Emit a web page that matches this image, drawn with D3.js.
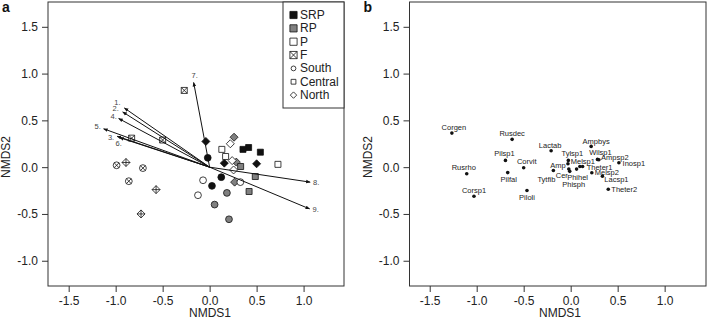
<!DOCTYPE html>
<html>
<head>
<meta charset="utf-8">
<script src="https://cdn.jsdelivr.net/npm/d3@7"></script>
<style>
  body { margin: 0; background: #fff; }
  text { font-family: "Liberation Sans", Arial, Helvetica, sans-serif; }
  .axis path { display: none; }
  .axis line { stroke: #333; }
  .axis text { fill: #222; font-size: 12px; }
</style>
</head>
<body>
<div id="chart"></div>
<script>
// ---- panel a: sites ----
const siteTreatment = [
  "F","F","F","F","F","F","F","F","F",
  "SRP","SRP","SRP","SRP","SRP","SRP","SRP","SRP","SRP",
  "RP","RP","RP","RP","RP","RP","RP","RP","RP",
  "P","P","P","P","P","P","P","P","P"
];
const siteRegion = [
  "Central","Central","Central","South","North","South","South","North","North",
  "North","South","North","Central","Central","Central","North","South","South",
  "North","North","Central","Central","Central","North","South","South","South",
  "Central","Central","North","North","North","South","South","South","Central"
];
const siteX = [
  -0.27, -0.83, -0.50, -0.99, -0.89, -0.71, -0.86, -0.57, -0.73,
  -0.04, -0.02, 0.156, 0.355, 0.415, 0.54, 0.50, 0.124, 0.025,
  0.26, 0.284, 0.33, 0.486, 0.42, 0.266, 0.184, 0.053, 0.206,
  0.13, 0.17, 0.22, 0.24, 0.255, 0.327, -0.07, -0.124, 0.727
];
const siteY = [
  0.82, 0.31, 0.29, 0.02, 0.05, -0.01, -0.15, -0.24, -0.50,
  0.275, 0.10, 0.043, 0.19, 0.21, 0.16, 0.036, -0.107, -0.20,
  0.32, 0.054, 0.007, -0.10, -0.26, -0.16, -0.275, -0.40, -0.557,
  0.19, 0.114, 0.25, 0.07, -0.03, -0.16, -0.14, -0.30, 0.03
];

// environmental vectors
const vecLabels = ["1.","2.","3.","4.","5.","6.","7.","8.","9."];
const vecX = [-0.907, -0.925, -0.985, -0.968, -1.128, -0.957, -0.17, 1.07, 1.064];
const vecY = [0.632, 0.59, 0.33, 0.52, 0.41, 0.315, 0.905, -0.16, -0.446];

const legendLabels = ["SRP","RP","P","F","South","Central","North"];

// ---- panel b: species ----
const speciesNames = ["Corgen","Rusdec","Pilsp1","Corvit","Pilfal","Rusrho","Corsp1","Piloli",
  "Lactab","Ampbys","Tylsp1","Amp","Tytfib","Cer","Phisph","Phihel","Melsp1","Theter1",
  "Wilsp1","Ampsp2","Inosp1","Melsp2","Lacsp1","Theter2"];
const speciesX = [-1.264, -0.623, -0.694, -0.50, -0.67, -1.106, -1.029, -0.465,
  -0.208, 0.218, -0.025, -0.029, -0.184, -0.02, -0.01, 0.063, 0.098, 0.127,
  0.285, 0.30, 0.513, 0.225, 0.338, 0.40];
const speciesY = [0.364, 0.297, 0.072, -0.006, -0.058, -0.071, -0.311, -0.25,
  0.176, 0.222, 0.072, 0.036, -0.035, -0.02, -0.045, -0.021, 0.007, 0.007,
  0.083, 0.079, 0.047, -0.06, -0.096, -0.236];

const xTicks = [-1.5, -1.0, -0.5, 0.0, 0.5, 1.0];
const yTicks = [-1.0, -0.5, 0.0, 0.5, 1.0, 1.5];

// label nudges (px) so the text sits like the original
const vecLabelNudge = [[-7,-6],[-7,-3],[-6,1],[-5,-2],[-6,-2],[-1,6],[1,-7],[6,0],[6,1]];
const speciesLabelNudge = {
  Corgen:[2,-6], Rusdec:[0,-6], Pilsp1:[-1,-7], Corvit:[3,-6], Pilfal:[1,7], Rusrho:[-3,-6],
  Corsp1:[0,-6], Piloli:[0,7], Lactab:[-1,-5], Ampbys:[5,-5], Tylsp1:[4,-7], Amp:[-10,2],
  Tytfib:[-7,9], Cer:[-7,6], Phisph:[4,13], Phihel:[1,8], Melsp1:[3,-5], Theter1:[17,1],
  Wilsp1:[3,-7], Ampsp2:[16,-2], Inosp1:[15,1], Melsp2:[15,0], Lacsp1:[14,3], Theter2:[16,0]
};

const W = 707, H = 325;
const svg = d3.select("#chart").append("svg")
  .attr("width", W).attr("height", H);

const fillFor = {SRP: "#111", RP: "#808080", P: "#fff", F: "#fff"};

// marker path centred at (cx, cy)
function markerPath(shape, cx, cy, s, crossed) {
  let p = "";
  if (shape === "South") {
    p = `M${cx + s},${cy} A${s},${s} 0 1,1 ${cx - s},${cy} A${s},${s} 0 1,1 ${cx + s},${cy} Z`;
    if (crossed) {
      const k = s * 0.7;
      p += `M${cx - k},${cy - k}L${cx + k},${cy + k}M${cx - k},${cy + k}L${cx + k},${cy - k}`;
    }
  } else if (shape === "Central") {
    p = `M${cx - s},${cy - s}H${cx + s}V${cy + s}H${cx - s}Z`;
    if (crossed) p += `M${cx - s},${cy - s}L${cx + s},${cy + s}M${cx - s},${cy + s}L${cx + s},${cy - s}`;
  } else {
    p = `M${cx},${cy - s}L${cx + s},${cy}L${cx},${cy + s}L${cx - s},${cy}Z`;
    if (crossed) p += `M${cx},${cy - s}V${cy + s}M${cx - s},${cy}H${cx + s}`;
  }
  return p;
}
const markerSize = {South: 3.4, Central: 3.0, North: 4.0};

function setupPanel(x0, x1, xDom, letter, titleX) {
  const g = svg.append("g");
  const x = d3.scaleLinear().domain(xDom).range([x0, x1]);
  const y = d3.scaleLinear().domain([-1.27, 1.765]).range([286, 2]);

  g.append("g").attr("class", "axis")
    .attr("transform", "translate(0,286)")
    .call(d3.axisBottom(x).tickValues(xTicks).tickSize(6).tickPadding(4)
      .tickFormat(d => d.toFixed(1)));
  g.append("g").attr("class", "axis")
    .attr("transform", `translate(${x0},0)`)
    .call(d3.axisLeft(y).tickValues(yTicks).tickSize(6).tickPadding(4)
      .tickFormat(d => d.toFixed(1)));

  g.append("rect")
    .attr("x", x0).attr("y", y.range()[1])
    .attr("width", x1 - x0).attr("height", y.range()[0] - y.range()[1])
    .attr("fill", "none").attr("stroke", "#333").attr("stroke-width", 1);

  g.append("text").attr("x", titleX).attr("y", 317)
    .attr("text-anchor", "middle").attr("font-size", 12).attr("fill", "#222")
    .text("NMDS1");
  g.append("text")
    .attr("transform", `translate(${x0 - 38},157) rotate(-90)`)
    .attr("text-anchor", "middle").attr("font-size", 12).attr("fill", "#222")
    .text("NMDS2");
  g.append("text").attr("x", x0 - 46).attr("y", 12)
    .attr("font-size", 14).attr("font-weight", "bold").attr("fill", "#111")
    .text(letter);
  return {g, x, y};
}

// ---------- panel a ----------
const A = setupPanel(48, 344, [-1.72, 1.43], "a", 210);

const defs = svg.append("defs");
defs.append("marker").attr("id", "head")
  .attr("viewBox", "0 0 10 10").attr("refX", 9).attr("refY", 5)
  .attr("markerWidth", 4.5).attr("markerHeight", 4.5).attr("orient", "auto")
  .append("path").attr("d", "M0,1L10,5L0,9Z").attr("fill", "#111");

const vec = vecLabels.map((l, i) => ({l, x: vecX[i], y: vecY[i], n: vecLabelNudge[i]}));

// points
const sites = siteX.map((v, i) => ({x: v, y: siteY[i], t: siteTreatment[i], r: siteRegion[i]}));
A.g.append("g").selectAll("path").data(sites).join("path")
  .attr("d", d => markerPath(d.r, A.x(d.x), A.y(d.y), markerSize[d.r], d.t === "F"))
  .attr("fill", d => fillFor[d.t])
  .attr("stroke", "#111").attr("stroke-width", 0.8);

// arrows
A.g.append("g").selectAll("line").data(vec).join("line")
  .attr("x1", A.x(0)).attr("y1", A.y(0))
  .attr("x2", d => A.x(d.x)).attr("y2", d => A.y(d.y))
  .attr("stroke", "#111").attr("stroke-width", 1)
  .attr("marker-end", "url(#head)");
A.g.append("g").selectAll("text").data(vec).join("text")
  .attr("x", d => A.x(d.x) + d.n[0]).attr("y", d => A.y(d.y) + d.n[1])
  .attr("text-anchor", "middle").attr("dominant-baseline", "central")
  .attr("font-size", 7.5).attr("fill", "#444")
  .text(d => d.l);

// legend
const lg = A.g.append("g");
lg.append("rect").attr("x", 283).attr("y", 2).attr("width", 61).attr("height", 106)
  .attr("fill", "#fff").attr("stroke", "#333").attr("stroke-width", 1);
legendLabels.forEach((lab, i) => {
  const cy = 15 + i * 13.35, cx = 293.5;
  let d, fill = "#fff";
  if (i < 4) {
    d = markerPath("Central", cx, cy, 3.6, lab === "F");
    fill = fillFor[lab];
  } else {
    const size = {South: 2.4, Central: 2.4, North: 3.2}[lab];
    d = markerPath(lab, cx, cy, size, false);
  }
  lg.append("path").attr("d", d).attr("fill", fill)
    .attr("stroke", "#111").attr("stroke-width", 0.8);
  lg.append("text").attr("x", 300).attr("y", cy)
    .attr("dominant-baseline", "central").attr("font-size", 12).attr("fill", "#222")
    .text(lab);
});

// ---------- panel b ----------
const B = setupPanel(409.5, 706, [-1.715, 1.44], "b", 560);
const species = speciesNames.map((n, i) => ({n, x: speciesX[i], y: speciesY[i], o: speciesLabelNudge[n]}));
B.g.append("g").selectAll("circle").data(species).join("circle")
  .attr("cx", d => B.x(d.x)).attr("cy", d => B.y(d.y)).attr("r", 1.8)
  .attr("fill", "#111");
B.g.append("g").selectAll("text").data(species).join("text")
  .attr("x", d => B.x(d.x) + d.o[0]).attr("y", d => B.y(d.y) + d.o[1])
  .attr("text-anchor", "middle").attr("dominant-baseline", "central")
  .attr("font-size", 7.5).attr("fill", "#222")
  .text(d => d.n);
</script>
</body>
</html>
